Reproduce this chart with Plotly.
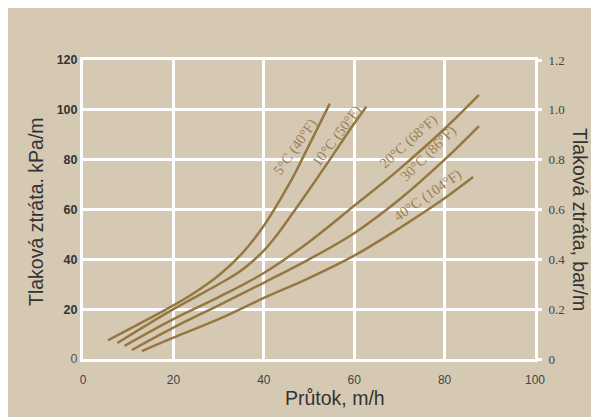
import plotly.graph_objects as go

# ---- data ----
flow_5c = [5.5, 20, 25, 30, 35, 40, 46.3, 48, 53.9, 54.6]
loss_5c = [7.5, 21.5, 27, 33.5, 42, 53.5, 72.5, 78.5, 100, 102.5]

flow_10c = [7.6, 20, 30, 35, 40, 43, 48.8, 54.6, 59.2, 62.7]
loss_10c = [6.4, 20, 30, 35.5, 43.5, 50, 64.7, 80, 92.4, 101.3]

flow_20c = [9.2, 20, 30, 40, 50, 60, 66.3, 70, 80, 87.6]
loss_20c = [5.3, 16, 24.8, 34.5, 47, 61.5, 70.6, 76.2, 92.4, 106]

flow_30c = [10.8, 20, 30, 40, 50, 60, 70, 80, 87.6]
loss_30c = [3.6, 12.6, 21.5, 30.6, 40, 50.5, 64, 80, 93.5]

flow_40c = [13, 20, 30, 40, 50, 60, 70, 80, 86.3]
loss_40c = [3.2, 8.6, 16, 24.5, 32.5, 41.5, 52.5, 64.5, 73]

curve_labels = ["5°C (40°F)", "10°C (50°F)", "20°C (68°F)", "30°C (86°F)", "40°C (104°F)"]
label_x = [47.1, 56.3, 72.1, 76.5, 76.2]
label_y = [85.2, 89.6, 87.1, 82.3, 65.8]
label_angle = [-55, -53, -42, -45, -35]

x_ticks = [0, 20, 40, 60, 80, 100]
y_ticks = [0, 20, 40, 60, 80, 100, 120]
y2_ticks = [0, 0.2, 0.4, 0.6, 0.8, 1.0, 1.2]
y2_ticktext = ["0", "0.2", "0.4", "0.6", "0.8", "1.0", "1.2"]

# ---- styling ----
BG = "#d6c9b4"
LINE = "#957841"
LABEL = "#9a7f55"
SANS = "Liberation Sans, Arial, sans-serif"
SERIF = "Liberation Serif, Times New Roman, serif"

fig = go.Figure()
series = [(flow_5c, loss_5c), (flow_10c, loss_10c), (flow_20c, loss_20c),
          (flow_30c, loss_30c), (flow_40c, loss_40c)]
for (xs, ys), name in zip(series, curve_labels):
    fig.add_trace(go.Scatter(x=xs, y=ys, mode="lines", name=name,
                             line=dict(color=LINE, width=2.5, shape="spline", smoothing=1.0),
                             showlegend=False, hoverinfo="x+y+name"))

# invisible trace to activate the right axis
fig.add_trace(go.Scatter(x=[0], y=[0], yaxis="y2", mode="markers",
                         marker=dict(opacity=0), showlegend=False, hoverinfo="skip"))

for txt, lx, ly, ang in zip(curve_labels, label_x, label_y, label_angle):
    fig.add_annotation(x=lx, y=ly, xref="x", yref="y", text=txt, showarrow=False,
                       textangle=ang, font=dict(family=SERIF, size=14.5, color=LABEL),
                       xanchor="center", yanchor="middle")

left_text = ["<span style='font-weight:normal;color:#555'>0</span>"] + [f"<b>{v}</b>" for v in y_ticks[1:]]

fig.update_layout(
    width=599, height=417,
    margin=dict(l=75, r=72, t=52, b=66),
    paper_bgcolor=BG,
    plot_bgcolor=BG,
    xaxis=dict(range=[0, 100], tickvals=x_ticks, showgrid=True, gridcolor="white", gridwidth=3,
               showline=True, linecolor="white", linewidth=3, mirror=True, zeroline=False,
               ticks="", ticklabelstandoff=8,
               tickfont=dict(family=SANS, size=12, color="#444")),
    yaxis=dict(range=[0, 120], tickvals=y_ticks, ticktext=left_text, showgrid=True,
               gridcolor="white", gridwidth=3, showline=True, linecolor="white", linewidth=3,
               mirror=True, zeroline=False, ticks="",
               tickfont=dict(family=SANS, size=12.5, color="#333")),
    yaxis2=dict(range=[0, 1.2], tickvals=y2_ticks, ticktext=y2_ticktext, overlaying="y",
                side="right", showgrid=False, zeroline=False, showline=False,
                ticks="outside", ticklen=6, tickwidth=3, tickcolor="white",
                ticklabelstandoff=4,
                tickfont=dict(family=SERIF, size=13, color="#444")),
)

fig.add_annotation(xref="paper", yref="paper", x=-0.104, y=0.495, text="Tlaková ztráta. kPa/m",
                   textangle=-90, showarrow=False, xanchor="center", yanchor="middle",
                   font=dict(family=SANS, size=19.5, color="#333"))
fig.add_annotation(xref="paper", yref="paper", x=1.0996, y=0.468, text="Tlaková ztráta, bar/m",
                   textangle=90, showarrow=False, xanchor="center", yanchor="middle",
                   font=dict(family=SANS, size=19.5, color="#333"))
fig.add_annotation(xref="paper", yref="paper", x=0.557, y=-0.130, text="Průtok, m/h",
                   showarrow=False, xanchor="center", yanchor="middle",
                   font=dict(family=SANS, size=19.5, color="#333"))

fig.write_html("out.html")
